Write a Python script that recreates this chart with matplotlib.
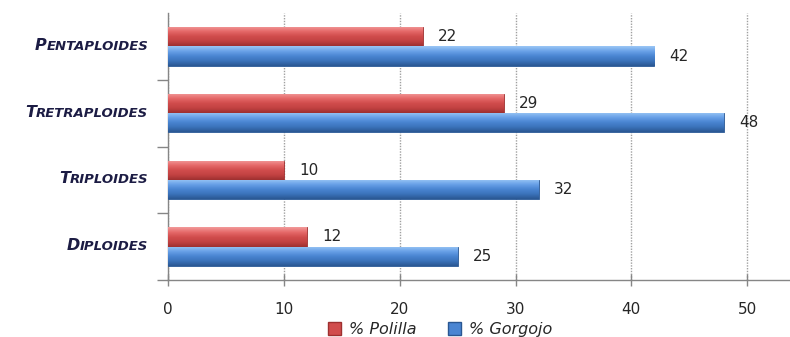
import numpy as np
import matplotlib
matplotlib.use('Agg')
import matplotlib.pyplot as plt
from matplotlib.colors import LinearSegmentedColormap
from matplotlib.patches import Patch

categories = ['Diploides', 'Triploides', 'Tretraploides', 'Pentaploides']
polilla = [12, 10, 29, 22]
gorgojo = [25, 32, 48, 42]
x_ticks = [0, 10, 20, 30, 40, 50]
series_names = ['% Polilla', '% Gorgojo']

red_grad = ['#9E3030', '#C24242', '#D14D4D', '#E66A6A', '#F29A9A']
blue_grad = ['#2A5792', '#3B73BB', '#4A85D2', '#6AA2E8', '#9AC6F5']

plt.rcParams['font.family'] = ['DejaVu Sans']

fig = plt.figure(figsize=(7.9, 3.37), dpi=100)
ax = fig.add_axes([0.2127, 0.1691, 0.7873, 0.7923])

bar_h = 0.29
ypos = np.arange(len(categories))


def gradient_bars(y, vals, colors):
    bars = ax.barh(y, vals, height=bar_h, color=colors[2],
                   edgecolor=colors[0], linewidth=0.6, zorder=3)
    cmap = LinearSegmentedColormap.from_list('g', colors)
    grad = np.linspace(0, 1, 64).reshape(-1, 1)
    for b in bars:
        x0, y0 = b.get_x(), b.get_y()
        im = ax.imshow(grad, cmap=cmap, aspect='auto', origin='lower',
                       extent=(x0, x0 + b.get_width(), y0, y0 + b.get_height()),
                       zorder=3.5)
        im.set_clip_path(b)
    return bars


gradient_bars(ypos + bar_h / 2, polilla, red_grad)
gradient_bars(ypos - bar_h / 2, gorgojo, blue_grad)

for i in range(len(categories)):
    ax.text(polilla[i] + 1.3, ypos[i] + bar_h / 2, str(polilla[i]),
            va='center', ha='left', fontsize=11, color='#262626', zorder=5)
    ax.text(gorgojo[i] + 1.3, ypos[i] - bar_h / 2, str(gorgojo[i]),
            va='center', ha='left', fontsize=11, color='#262626', zorder=5)

ax.set_xlim(0, 53.7)
ax.set_ylim(-0.5, 3.5)
ax.set_xticks(x_ticks)
ax.set_xticklabels([str(t) for t in x_ticks], fontsize=11, color='#262626')
ax.tick_params(axis='x', direction='inout', length=9, width=1,
               color='#868686', pad=11)
ax.set_yticks(ypos)
ax.set_yticklabels([''] * len(categories))
ax.tick_params(axis='y', which='major', length=0)
ax.set_yticks([-0.5, 0.5, 1.5, 2.5], minor=True)
ax.tick_params(axis='y', which='minor', direction='out', length=8,
               width=1, color='#868686')

ax.grid(axis='x', linestyle=(0, (1, 1)), color='#A0A0A0', linewidth=1, zorder=0)
ax.set_axisbelow(True)
for s in ['top', 'right']:
    ax.spines[s].set_visible(False)
for s in ['left', 'bottom']:
    ax.spines[s].set_color('#868686')
    ax.spines[s].set_linewidth(1)

# small caps category labels
trans = ax.get_yaxis_transform()
for i, name in enumerate(categories):
    rest = ax.text(-0.032, ypos[i], name[1:].upper(), transform=trans,
                   ha='right', va='center', fontsize=9.5, style='italic',
                   weight='bold', color='#1C1C44')
    ax.annotate(name[0].upper(), xy=(0, 0), xycoords=rest, ha='right',
                va='bottom', fontsize=11.5, style='italic', weight='bold',
                color='#1C1C44')

handles = [Patch(facecolor=red_grad[2], edgecolor=red_grad[0]),
           Patch(facecolor=blue_grad[2], edgecolor=blue_grad[0])]
leg = fig.legend(handles, series_names, loc='center', ncol=2,
                 bbox_to_anchor=(0.557, 0.022), frameon=False,
                 prop={'size': 11.5, 'style': 'italic'},
                 handlelength=0.8, handleheight=0.8, handletextpad=0.5,
                 columnspacing=2.0)
for t in leg.get_texts():
    t.set_color('#262626')

fig.savefig('out.png', dpi=100)
